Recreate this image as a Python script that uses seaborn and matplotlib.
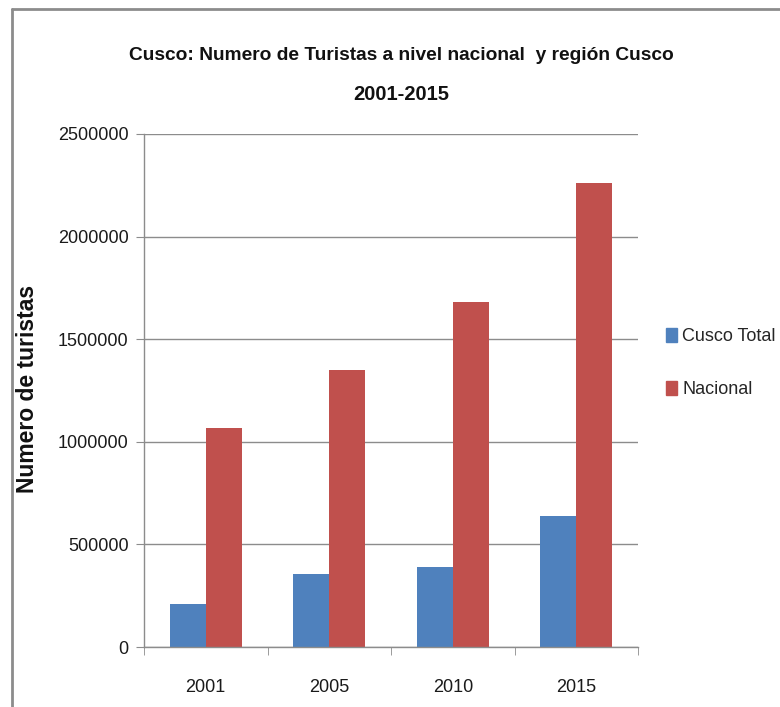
import numpy as np
import pandas as pd
import seaborn as sns
import matplotlib.pyplot as plt
from matplotlib.patches import Rectangle

years = ['2001', '2005', '2010', '2015']
cusco_total = [210000, 358000, 390000, 638000]
nacional = [1065000, 1350000, 1680000, 2262000]
series_names = ['Cusco Total', 'Nacional']
colors = ['#4F81BD', '#C0504D']

df = pd.DataFrame({
    'Año': years * 2,
    'Turistas': cusco_total + nacional,
    'Serie': [series_names[0]] * 4 + [series_names[1]] * 4,
})

sns.set_style('white')
plt.rcParams['font.family'] = ['Liberation Sans', 'DejaVu Sans']

fig = plt.figure(figsize=(7.8, 7.07), dpi=100)
ax = fig.add_axes([144 / 780, 1 - 647 / 707, (638 - 144) / 780, (647 - 134) / 707])

sns.barplot(data=df, x='Año', y='Turistas', hue='Serie', palette=colors,
            width=0.58, gap=0, saturation=1, linewidth=0, ax=ax, legend=False)

ax.set_ylim(0, 2500000)
ax.set_xlim(-0.5, 3.5)
ax.set_yticks(np.arange(0, 2500001, 500000))
ax.set_yticklabels([str(v) for v in range(0, 2500001, 500000)], fontsize=13, color='#1a1a1a')
ax.set_xticklabels(years, fontsize=13, color='#1a1a1a')
ax.yaxis.grid(True, color='#8c8c8c', linewidth=1)
ax.set_axisbelow(True)
ax.set_xlabel('')
ax.set_ylabel('Numero de turistas', fontsize=16.5, fontweight='bold', color='#111111')
ax.yaxis.set_label_coords(-0.212, 0.503)

for s in ['top', 'right']:
    ax.spines[s].set_visible(False)
for s in ['left', 'bottom']:
    ax.spines[s].set_color('#8c8c8c')
    ax.spines[s].set_linewidth(1)

ax.tick_params(axis='y', which='major', length=6, color='#8c8c8c', direction='out', left=True, pad=5)
ax.tick_params(axis='x', which='major', length=0, pad=23)
ax.set_xticks([-0.5, 0.5, 1.5, 2.5, 3.5], minor=True)
ax.tick_params(axis='x', which='minor', length=6, color='#8c8c8c', direction='out', bottom=True)

fig.text(401 / 780, 1 - 55 / 707, 'Cusco: Numero de Turistas a nivel nacional  y región Cusco',
         ha='center', va='center', fontsize=13.8, fontweight='bold', color='#111111')
fig.text(401 / 780, 1 - 95 / 707, '2001-2015', ha='center', va='center',
         fontsize=14.5, fontweight='bold', color='#111111')

handles = [Rectangle((0, 0), 1, 1, color=c) for c in colors]
fig.legend(handles, series_names, loc='center left', bbox_to_anchor=(666 / 780, 1 - 363 / 707),
           frameon=False, fontsize=13, handlelength=0.6, handleheight=0.8,
           handletextpad=0.3, labelspacing=2.0, borderaxespad=0, borderpad=0)

# outer chart frame
fig.add_artist(plt.Line2D([12 / 780, 12 / 780], [0, 1 - 9 / 707], color='#8c8c8c', linewidth=2))
fig.add_artist(plt.Line2D([12 / 780, 1], [1 - 9 / 707, 1 - 9 / 707], color='#8c8c8c', linewidth=2))

fig.savefig('out.png', dpi=100)
